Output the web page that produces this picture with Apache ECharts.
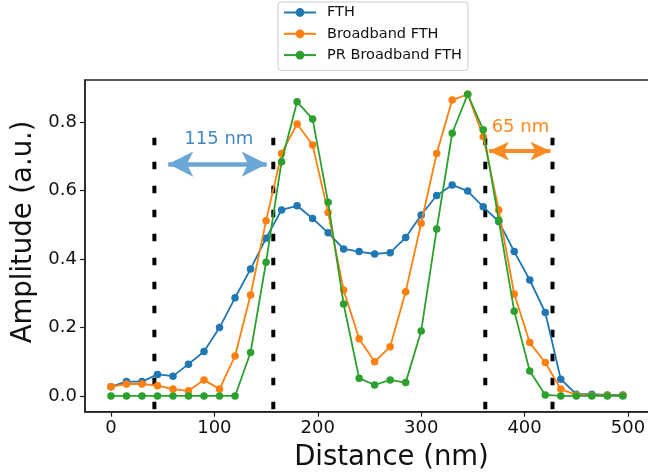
<!DOCTYPE html>
<html>
<head>
<meta charset="utf-8">
<script src="https://cdn.jsdelivr.net/npm/echarts@6/dist/echarts.min.js"></script>
<style>
  html, body { margin: 0; padding: 0; background: #ffffff; }
  #chart { width: 648px; height: 473px; }
</style>
</head>
<body>
<div id="chart"></div>
<script>
// Line profiles across the two features (distance in nm, amplitude in a.u.)
const distanceNm = [0, 15, 30, 45, 60, 75, 90, 105, 120, 135, 150, 165, 180, 195, 210, 225, 240,
  255, 270, 285, 300, 315, 330, 345, 360, 375, 390, 405, 420, 435, 450, 465, 480, 495];

const fth = [0.027, 0.042, 0.042, 0.063, 0.058, 0.093, 0.130, 0.200, 0.287, 0.371, 0.461, 0.544,
  0.556, 0.519, 0.477, 0.430, 0.422, 0.415, 0.419, 0.463, 0.529, 0.586, 0.617, 0.599, 0.553,
  0.510, 0.422, 0.339, 0.244, 0.049, 0.005, 0.005, 0.003, 0.003];

const broadbandFth = [0.027, 0.035, 0.035, 0.030, 0.020, 0.015, 0.047, 0.020, 0.117, 0.295, 0.512,
  0.709, 0.795, 0.734, 0.536, 0.310, 0.167, 0.100, 0.144, 0.305, 0.505, 0.709, 0.865, 0.882,
  0.758, 0.544, 0.298, 0.156, 0.098, 0.020, 0.003, 0.002, 0.002, 0.002];

const prBroadbandFth = [0, 0, 0, 0, 0, 0, 0, 0, 0, 0.127, 0.391, 0.685, 0.860, 0.810, 0.566, 0.269,
  0.052, 0.032, 0.047, 0.039, 0.190, 0.488, 0.768, 0.882, 0.778, 0.514, 0.248, 0.073, 0.003,
  0, 0, 0, 0, 0];

const seriesNames = ['FTH', 'Broadband FTH', 'PR Broadband FTH'];

// Edge markers (nm) and their vertical extent (a.u.)
const edgeX = [42, 157, 362, 427];
const edgeTop = 0.755;
const edgeBottom = -0.08;

// Width annotations: arrow tips (nm), arrow height and text anchor (a.u. / nm)
const spanText = ['115 nm', '65 nm'];
const spanFrom = [55.4, 365.5];
const spanTo = [150.6, 425.0];
const spanArrowY = [0.678, 0.716];
const spanTextX = [104.3, 396.0];
const spanTextY = [0.751, 0.786];

// Tick values
const xTicks = [0, 100, 200, 300, 400, 500];
const yTicks = [0, 0.2, 0.4, 0.6, 0.8];

// ---- layout / style ----
const FONT = 'DejaVu Sans';
const COLORS = ['#1f77b4', '#ff7f0e', '#2ca02c'];
const X_MIN = -25.1, X_MAX = 567.7;
const Y_MIN = -0.046, Y_MAX = 0.9237;
const GRID = { left: 85, top: 80, width: 613, height: 331.7 };

const arrowStyles = [
  { color: '#6aa6d6', head: [19, 25], width: 4.5, text: '#3f88c5' },
  { color: '#fd8a22', head: [14, 20], width: 3.8, text: '#fe8a1e' }
];

const chart = echarts.init(document.getElementById('chart'), null, { renderer: 'canvas' });

const profile = [fth, broadbandFth, prBroadbandFth];

const series = [];

// dashed vertical edge markers
edgeX.forEach(function (x) {
  series.push({
    type: 'line',
    data: [[x, edgeTop], [x, edgeBottom]],
    symbol: 'none',
    silent: true,
    clip: true,
    lineStyle: { color: '#000', width: 4, type: [7.5, 16.5], cap: 'butt' },
    z: 1
  });
});

// the three profiles
profile.forEach(function (vals, i) {
  series.push({
    name: seriesNames[i],
    type: 'line',
    data: distanceNm.map(function (d, k) { return [d, vals[k]]; }),
    symbol: 'circle',
    symbolSize: 7.5,
    showSymbol: true,
    color: COLORS[i],
    lineStyle: { width: 1.8, color: COLORS[i] },
    itemStyle: { color: COLORS[i] },
    z: 2 + i
  });
});

// double-headed width arrows (tips sit on the end coordinates)
spanText.forEach(function (t, i) {
  const st = arrowStyles[i];
  series.push({
    type: 'line',
    data: [],
    silent: true,
    z: 6,
    markLine: {
      silent: true,
      animation: false,
      symbol: ['arrow', 'arrow'],
      label: { show: false },
      lineStyle: { color: st.color, width: st.width, type: 'solid', opacity: 1 },
      emphasis: { disabled: true },
      data: [[
        { coord: [spanFrom[i], spanArrowY[i]], symbolSize: st.head },
        { coord: [spanTo[i], spanArrowY[i]], symbolSize: st.head }
      ]]
    }
  });
});

// annotation text
series.push({
  type: 'scatter',
  silent: true,
  symbolSize: 0,
  z: 7,
  data: spanText.map(function (t, i) {
    return {
      value: [spanTextX[i], spanTextY[i]],
      name: t,
      label: { color: arrowStyles[i].text }
    };
  }),
  label: {
    show: true,
    position: 'inside',
    formatter: '{b}',
    fontFamily: FONT,
    fontSize: 18,
    opacity: 1
  }
});

chart.setOption({
  animation: false,
  backgroundColor: '#ffffff',
  textStyle: { fontFamily: FONT },
  grid: {
    left: GRID.left, top: GRID.top, width: GRID.width, height: GRID.height,
    show: true, borderColor: '#222', borderWidth: 1.5, backgroundColor: 'transparent',
    containLabel: false,
    outerBoundsMode: 'none'
  },
  legend: {
    data: seriesNames,
    orient: 'vertical',
    left: 278,
    top: 2,
    padding: [3, 6, 8, 5],
    itemGap: 6.3,
    itemWidth: 32,
    itemHeight: 11,
    borderColor: '#cccccc',
    borderWidth: 1,
    borderRadius: 3,
    backgroundColor: '#ffffff',
    textStyle: { fontFamily: FONT, fontSize: 14.5, color: '#111', padding: [0, 0, 0, 6] }
  },
  xAxis: {
    type: 'value',
    min: X_MIN,
    max: X_MAX,
    name: 'Distance (nm)',
    nameLocation: 'middle',
    nameGap: 32,
    nameTextStyle: { fontFamily: FONT, fontSize: 27.5, color: '#111' },
    axisLine: { show: true, onZero: false, lineStyle: { color: '#222', width: 1.5 } },
    axisTick: { show: true, inside: false, length: 5, customValues: xTicks,
      lineStyle: { color: '#222', width: 1.2 } },
    axisLabel: { customValues: xTicks, fontFamily: FONT, fontSize: 18, color: '#111', margin: 8,
      formatter: function (v) { return String(v); } },
    splitLine: { show: false }
  },
  yAxis: {
    type: 'value',
    min: Y_MIN,
    max: Y_MAX,
    name: 'Amplitude (a.u.)',
    nameLocation: 'middle',
    nameRotate: 90,
    nameGap: 45,
    nameTextStyle: { fontFamily: FONT, fontSize: 27.5, color: '#111', padding: [0, 0, 0, 28] },
    axisLine: { show: true, onZero: false, lineStyle: { color: '#222', width: 1.5 } },
    axisTick: { show: true, inside: false, length: 5, customValues: yTicks,
      lineStyle: { color: '#222', width: 1.2 } },
    axisLabel: { customValues: yTicks, fontFamily: FONT, fontSize: 18, color: '#111', margin: 8,
      formatter: function (v) { return v.toFixed(1); } },
    splitLine: { show: false }
  },
  series: series
});
</script>
</body>
</html>
